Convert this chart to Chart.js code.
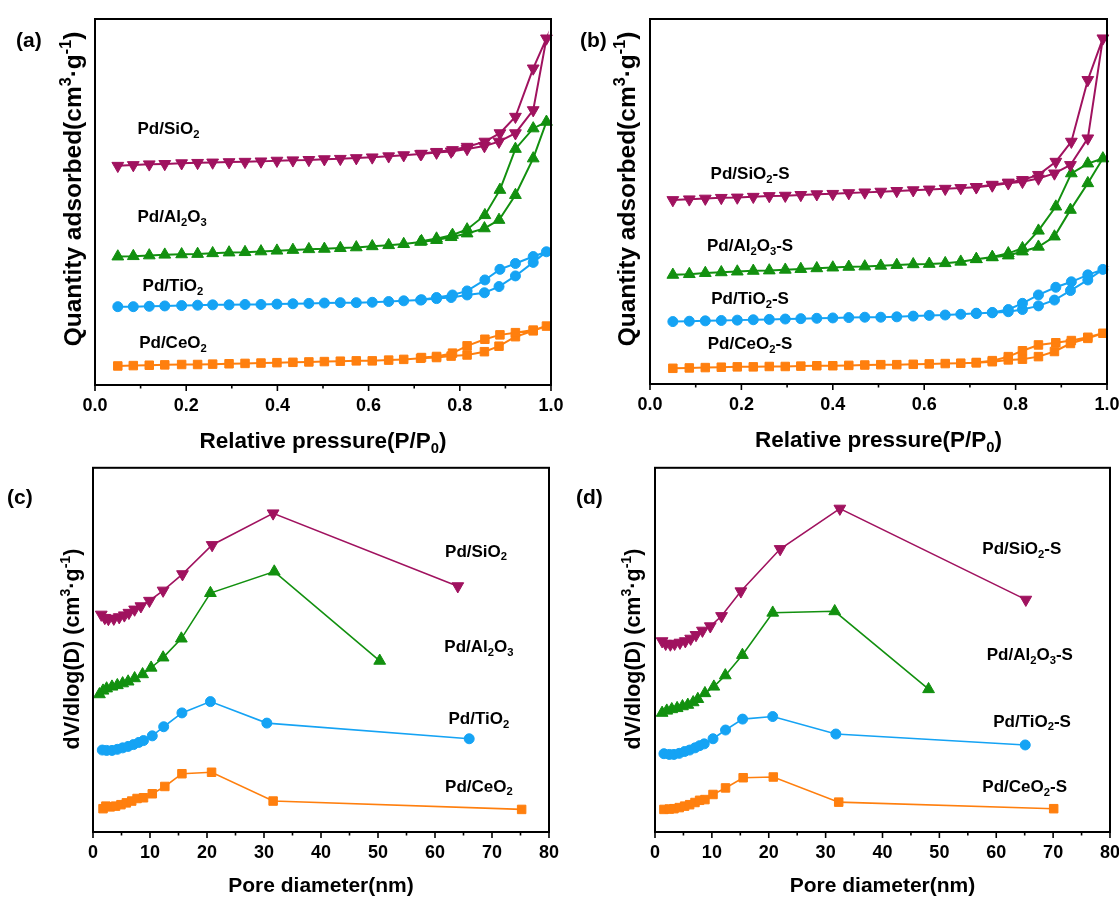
<!DOCTYPE html>
<html lang="en">
<head>
<meta charset="UTF-8">
<title>Pd catalysts - N2 isotherms and pore size distribution</title>
<script src="https://cdn.jsdelivr.net/npm/chart.js@4.4.1/dist/chart.umd.min.js"></script>
<style>
  body { margin: 0; background: #fff; }
  canvas { position: absolute; }
</style>
</head>
<body>
<canvas id="chartA" width="565" height="460" style="left:0;top:0"></canvas>
<canvas id="chartB" width="554" height="460" style="left:565px;top:0"></canvas>
<canvas id="chartC" width="565" height="438" style="left:0;top:460px"></canvas>
<canvas id="chartD" width="554" height="438" style="left:565px;top:460px"></canvas>

<script>
// ---- (a) isotherms, fresh catalysts (relative pressure / arbitrary offset units)
const pAds = [0.05,0.084,0.119,0.153,0.19,0.225,0.258,0.294,0.329,0.364,0.399,0.434,0.469,0.503,0.538,0.573,0.608,0.644,0.677,0.714,0.749,0.781,0.816,0.854,0.886,0.922,0.961,0.99];
const pDes = [0.961,0.922,0.888,0.855,0.816,0.784,0.749,0.716];
const aSiO2Ads = [59.9,60.1,60.3,60.4,60.6,60.7,60.8,60.9,61.0,61.1,61.3,61.4,61.5,61.7,61.8,62.0,62.2,62.5,62.8,63.1,63.5,63.8,64.5,65.3,66.5,68.8,75.1,94.7];
const aSiO2Des = [86.5,73.3,68.8,66.5,65.1,64.2,63.7,63.2];
const aAl2O3Ads = [35.1,35.2,35.4,35.6,35.7,35.8,36.0,36.2,36.3,36.5,36.7,36.9,37.1,37.2,37.4,37.6,37.9,38.2,38.5,39.1,39.6,40.4,41.4,42.8,45.1,51.9,61.9,71.9];
const aAl2O3Des = [70.1,64.5,53.3,46.4,42.5,41.0,40.0,39.3];
const aTiO2Ads = [21.4,21.4,21.5,21.6,21.7,21.8,21.9,21.9,22.0,22.0,22.1,22.2,22.3,22.4,22.5,22.5,22.6,22.8,23.0,23.2,23.6,23.9,24.6,25.2,26.9,29.8,33.5,36.4];
const aTiO2Des = [35.1,33.2,31.6,28.7,25.7,24.6,23.9,23.3];
const aCeO2Ads = [5.2,5.3,5.4,5.5,5.6,5.6,5.7,5.8,5.9,6.0,6.1,6.2,6.3,6.4,6.5,6.6,6.6,6.8,7.0,7.3,7.5,7.9,8.2,9.1,10.6,13.2,14.8,16.1];
const aCeO2Des = [15.0,14.3,13.7,12.5,10.7,8.7,7.8,7.5];

// ---- (b) isotherms, -S catalysts
const pAdsB = [0.05,0.086,0.121,0.156,0.191,0.226,0.261,0.296,0.33,0.365,0.4,0.435,0.47,0.505,0.54,0.576,0.611,0.646,0.68,0.714,0.749,0.784,0.815,0.85,0.885,0.92,0.958,0.991];
const pDesB = [0.958,0.922,0.888,0.85,0.815,0.784,0.749,0.714];
const bSiO2Ads = [50.4,50.6,50.8,51.0,51.1,51.3,51.5,51.6,51.8,52.0,52.1,52.3,52.5,52.7,52.9,53.1,53.3,53.5,53.7,53.9,54.4,55.0,55.4,56.3,57.7,60.0,67.3,94.7];
const bSiO2Des = [83.3,66.4,60.9,57.3,55.9,55.2,54.6,54.0];
const bAl2O3Ads = [29.9,30.1,30.4,30.6,30.8,31.0,31.1,31.3,31.5,31.7,31.9,32.1,32.2,32.4,32.6,32.8,32.9,33.1,33.5,34.2,34.7,35.2,36.3,37.6,40.4,47.7,55.0,61.8];
const bAl2O3Des = [60.4,57.7,48.6,42.0,37.2,35.8,34.8,34.2];
const bTiO2Ads = [17.1,17.2,17.3,17.4,17.5,17.6,17.7,17.8,17.9,18.0,18.1,18.2,18.3,18.3,18.4,18.6,18.8,18.9,19.1,19.4,19.5,19.8,20.4,21.4,23.0,25.6,28.5,31.4];
const bTiO2Des = [29.9,28.0,26.5,24.4,22.1,20.4,19.6,19.3];
const bCeO2Ads = [4.3,4.4,4.5,4.6,4.7,4.7,4.8,4.8,4.9,5.0,5.0,5.1,5.2,5.3,5.3,5.4,5.5,5.6,5.7,5.8,6.1,6.6,6.8,7.5,8.9,11.1,12.5,13.9];
const bCeO2Des = [12.8,11.9,11.3,10.7,9.1,7.5,6.4,5.9];

// ---- (c) pore size distribution, fresh catalysts (nm / offset units)
const cSiO2D = [1.45,2.07,2.7,3.65,4.6,5.5,6.3,7.3,8.4,9.9,12.3,15.7,20.9,31.6,64.0];
const cSiO2V = [59.7,58.8,58.5,58.6,59.0,59.5,60.2,61.1,62.0,63.5,66.3,70.8,78.8,87.5,67.5];
const cAl2O3D = [1.13,1.76,2.39,3.33,4.27,5.2,6.16,7.3,8.7,10.2,12.3,15.5,20.6,31.8,50.3];
const cAl2O3V = [37.8,38.8,39.4,39.9,40.3,40.8,41.3,42.2,43.3,45.1,47.9,53.1,65.6,71.5,47.0];
const cTiO2D = [1.63,2.39,3.33,4.27,5.2,6.16,7.1,8.05,8.86,10.4,12.4,15.6,20.6,30.5,66.0];
const cTiO2V = [22.5,22.4,22.4,22.7,23.1,23.5,24.0,24.6,25.1,26.4,28.9,32.7,35.8,29.9,25.6];
const cCeO2D = [1.76,2.26,3.02,3.96,4.9,5.85,6.79,7.73,8.86,10.4,12.6,15.6,20.8,31.6,75.2];
const cCeO2V = [6.4,7.1,6.9,7.1,7.5,8.0,8.5,9.2,9.4,10.5,12.5,16.0,16.4,8.5,6.2];

// ---- (d) pore size distribution, -S catalysts
const dSiO2D = [1.25,1.88,2.7,3.45,4.39,5.33,6.27,7.21,8.34,9.72,11.7,15.1,22.0,32.5,65.2];
const dSiO2V = [52.4,51.7,51.5,51.7,52.0,52.4,53.1,54.1,55.3,56.5,59.3,66.1,77.7,88.8,63.8];
const dAl2O3D = [1.25,2.07,2.95,3.89,4.83,5.77,6.71,7.53,8.78,10.35,12.36,15.37,20.7,31.6,48.1];
const dAl2O3V = [32.7,33.3,33.7,34.0,34.5,34.9,35.6,36.5,38.1,39.9,43.0,48.6,60.2,60.6,39.2];
const dTiO2D = [1.57,2.51,3.33,4.27,5.21,6.09,7.03,7.84,8.66,10.2,12.4,15.4,20.7,31.8,65.1];
const dTiO2V = [21.5,21.3,21.3,21.6,22.1,22.5,23.1,23.7,24.2,25.6,28.0,31.0,31.7,26.9,23.9];
const dCeO2D = [1.57,2.51,3.33,4.27,5.21,6.09,7.03,7.84,8.78,10.2,12.4,15.5,20.8,32.3,70.1];
const dCeO2V = [6.2,6.3,6.4,6.7,7.1,7.5,8.1,8.7,8.9,10.3,12.1,14.9,15.1,8.2,6.4];

const FONT = "'Liberation Sans', Arial, Helvetica, sans-serif";

// marker / colour per support
const STYLE = {
    SiO2:  { color: '#A0125F', pointStyle: 'triangle', rot: 180, r: 6.8 },
    Al2O3: { color: '#12900F', pointStyle: 'triangle', rot: 0,   r: 6.8 },
    TiO2:  { color: '#15A3F4', pointStyle: 'circle',   rot: 0,   r: 5 },
    CeO2:  { color: '#FF7F0E', pointStyle: 'rect',     rot: 0,   r: 6 }
};

// "_2" -> subscript, "^3" / "^-1" -> superscript
function richParts(str) {
    const parts = [];
    let buf = '', i = 0;
    while (i < str.length) {
        const c = str[i];
        if (c === '_' || c === '^') {
            if (buf) { parts.push({ t: buf, k: 0 }); buf = ''; }
            let j = i + 1, tok = '';
            if (str[j] === '-') { tok += '-'; j++; }
            while (j < str.length && /[0-9]/.test(str[j])) { tok += str[j]; j++; }
            parts.push({ t: tok, k: c === '_' ? -1 : 1 });
            i = j;
        } else { buf += c; i++; }
    }
    if (buf) parts.push({ t: buf, k: 0 });
    return parts;
}

function drawRich(ctx, str, x, y, size, align) {
    const parts = richParts(str);
    const small = size * 0.66;
    let w = 0;
    parts.forEach(p => {
        ctx.font = `bold ${p.k ? small : size}px ${FONT}`;
        p.w = ctx.measureText(p.t).width;
        w += p.w;
    });
    let cx = align === 'center' ? x - w / 2 : x;
    ctx.textAlign = 'left';
    ctx.textBaseline = 'alphabetic';
    ctx.fillStyle = '#000';
    parts.forEach(p => {
        ctx.font = `bold ${p.k ? small : size}px ${FONT}`;
        const dy = p.k === -1 ? size * 0.22 : p.k === 1 ? -size * 0.4 : 0;
        ctx.fillText(p.t, cx, y + dy);
        cx += p.w;
    });
}

// box, ticks, titles, panel tag and series names
function decorPlugin(panel) {
    return {
        id: 'decor',
        afterDatasetsDraw(chart) {
            const ctx = chart.ctx;
            const { left, right, top, bottom } = chart.chartArea;
            const xs = chart.scales.x, ys = chart.scales.y;
            ctx.save();
            ctx.strokeStyle = '#000';
            ctx.lineWidth = 2;
            ctx.strokeRect(left, top, right - left, bottom - top);

            const n = Math.round((panel.xMax - panel.xMin) / panel.minor);
            const every = Math.round(panel.major / panel.minor);
            ctx.lineWidth = 1.6;
            for (let i = 0; i <= n; i++) {
                const px = xs.getPixelForValue(panel.xMin + i * panel.minor);
                ctx.beginPath();
                ctx.moveTo(px, bottom);
                ctx.lineTo(px, bottom + (i % every === 0 ? 6 : 3.5));
                ctx.stroke();
            }

            drawRich(ctx, panel.xTitle, (left + right) / 2, bottom + panel.xTitleGap, panel.titleSize, 'center');

            ctx.save();
            ctx.translate(panel.yTitleX, panel.yTitleY);
            ctx.rotate(-Math.PI / 2);
            drawRich(ctx, panel.yTitle, 0, 0, panel.yTitleSize, 'center');
            ctx.restore();

            drawRich(ctx, panel.tag, panel.tagX, panel.tagY, 21, 'left');

            panel.names.forEach(nm => {
                const px = xs.getPixelForValue(nm.x);
                const py = ys.getPixelForValue(nm.y);
                drawRich(ctx, nm.text, px, py + 17 * 0.36, 17, 'center');
            });
            ctx.restore();
        }
    };
}

function loop(xAds, yAds, xDes, yDes) {
    const pts = yAds.map((v, i) => ({ x: xAds[i], y: v }));
    return pts.concat(yDes.map((v, i) => ({ x: xDes[i], y: v })));
}
function curve(xs, ys) {
    return ys.map((v, i) => ({ x: xs[i], y: v }));
}

function ds(key, data, lw) {
    const s = STYLE[key];
    return {
        data,
        showLine: true,
        borderColor: s.color,
        backgroundColor: s.color,
        borderWidth: lw,
        pointStyle: s.pointStyle,
        pointRotation: s.rot,
        pointRadius: s.r,
        pointBorderWidth: 1,
        pointBackgroundColor: s.color,
        pointBorderColor: s.color,
        clip: false
    };
}

function makeChart(panel, datasets) {
    return new Chart(document.getElementById(panel.canvas), {
        type: 'scatter',
        data: { datasets },
        options: {
            responsive: false,
            animation: false,
            events: [],
            layout: { padding: panel.pad },
            plugins: { legend: { display: false }, tooltip: { enabled: false } },
            scales: {
                x: {
                    type: 'linear',
                    min: panel.xMin,
                    max: panel.xMax,
                    afterFit(s) { s.height = 50; s.paddingLeft = 0; s.paddingRight = 0; },
                    grid: { display: false, drawTicks: false },
                    border: { display: false },
                    ticks: {
                        stepSize: panel.major,
                        padding: 10,
                        color: '#000',
                        maxRotation: 0,
                        autoSkip: false,
                        font: { family: FONT, size: 18, weight: 'bold' },
                        callback: v => Number(v).toFixed(panel.digits)
                    }
                },
                y: { display: false, min: 0, max: 100 }
            }
        },
        plugins: [decorPlugin(panel)]
    });
}

const isoCommon = {
    xMin: 0, xMax: 1, major: 0.2, minor: 0.1, digits: 1,
    xTitle: 'Relative pressure(P/P_0)', xTitleGap: 63, titleSize: 22.5,
    yTitle: 'Quantity adsorbed(cm^3·g^-1)', yTitleSize: 24.5
};
const psdCommon = {
    xMin: 0, xMax: 80, major: 10, minor: 5, digits: 0,
    xTitle: 'Pore diameter(nm)', xTitleGap: 60, titleSize: 21,
    yTitle: 'dV/dlog(D) (cm^3·g^-1)', yTitleSize: 21.5
};

const panelA = Object.assign({}, isoCommon, {
    canvas: 'chartA', pad: { left: 95, right: 14, top: 19, bottom: 25 },
    yTitleX: 81, yTitleY: 189, tag: '(a)', tagX: 16, tagY: 47,
    names: [
        { text: 'Pd/SiO_2', x: 0.161, y: 70.2 },
        { text: 'Pd/Al_2O_3', x: 0.169, y: 46.2 },
        { text: 'Pd/TiO_2', x: 0.171, y: 27.3 },
        { text: 'Pd/CeO_2', x: 0.171, y: 11.7 }
    ]
});
const panelB = Object.assign({}, isoCommon, {
    canvas: 'chartB', pad: { left: 85, right: 12, top: 19, bottom: 26 },
    yTitleX: 70, yTitleY: 189, tag: '(b)', tagX: 15, tagY: 47,
    names: [
        { text: 'Pd/SiO_2-S', x: 0.219, y: 57.8 },
        { text: 'Pd/Al_2O_3-S', x: 0.219, y: 38.1 },
        { text: 'Pd/TiO_2-S', x: 0.219, y: 23.6 },
        { text: 'Pd/CeO_2-S', x: 0.219, y: 11.2 }
    ]
});
const panelC = Object.assign({}, psdCommon, {
    canvas: 'chartC', pad: { left: 93, right: 16, top: 6, bottom: 16 },
    yTitleX: 79, yTitleY: 189, tag: '(c)', tagX: 7, tagY: 44,
    names: [
        { text: 'Pd/SiO_2', x: 67.2, y: 77.3 },
        { text: 'Pd/Al_2O_3', x: 67.7, y: 51.1 },
        { text: 'Pd/TiO_2', x: 67.7, y: 31.4 },
        { text: 'Pd/CeO_2', x: 67.7, y: 12.8 }
    ]
});
const panelD = Object.assign({}, psdCommon, {
    canvas: 'chartD', pad: { left: 90, right: 9, top: 6, bottom: 16 },
    yTitleX: 75, yTitleY: 189, tag: '(d)', tagX: 11, tagY: 44,
    names: [
        { text: 'Pd/SiO_2-S', x: 64.5, y: 77.9 },
        { text: 'Pd/Al_2O_3-S', x: 65.9, y: 48.9 },
        { text: 'Pd/TiO_2-S', x: 66.3, y: 30.6 },
        { text: 'Pd/CeO_2-S', x: 65.0, y: 12.6 }
    ]
});

makeChart(panelA, [
    ds('SiO2', loop(pAds, aSiO2Ads, pDes, aSiO2Des), 2),
    ds('Al2O3', loop(pAds, aAl2O3Ads, pDes, aAl2O3Des), 2),
    ds('TiO2', loop(pAds, aTiO2Ads, pDes, aTiO2Des), 2),
    ds('CeO2', loop(pAds, aCeO2Ads, pDes, aCeO2Des), 2)
]);
makeChart(panelB, [
    ds('SiO2', loop(pAdsB, bSiO2Ads, pDesB, bSiO2Des), 2),
    ds('Al2O3', loop(pAdsB, bAl2O3Ads, pDesB, bAl2O3Des), 2),
    ds('TiO2', loop(pAdsB, bTiO2Ads, pDesB, bTiO2Des), 2),
    ds('CeO2', loop(pAdsB, bCeO2Ads, pDesB, bCeO2Des), 2)
]);
makeChart(panelC, [
    ds('SiO2', curve(cSiO2D, cSiO2V), 1.6),
    ds('Al2O3', curve(cAl2O3D, cAl2O3V), 1.6),
    ds('TiO2', curve(cTiO2D, cTiO2V), 1.6),
    ds('CeO2', curve(cCeO2D, cCeO2V), 1.6)
]);
makeChart(panelD, [
    ds('SiO2', curve(dSiO2D, dSiO2V), 1.6),
    ds('Al2O3', curve(dAl2O3D, dAl2O3V), 1.6),
    ds('TiO2', curve(dTiO2D, dTiO2V), 1.6),
    ds('CeO2', curve(dCeO2D, dCeO2V), 1.6)
]);
</script>
</body>
</html>
